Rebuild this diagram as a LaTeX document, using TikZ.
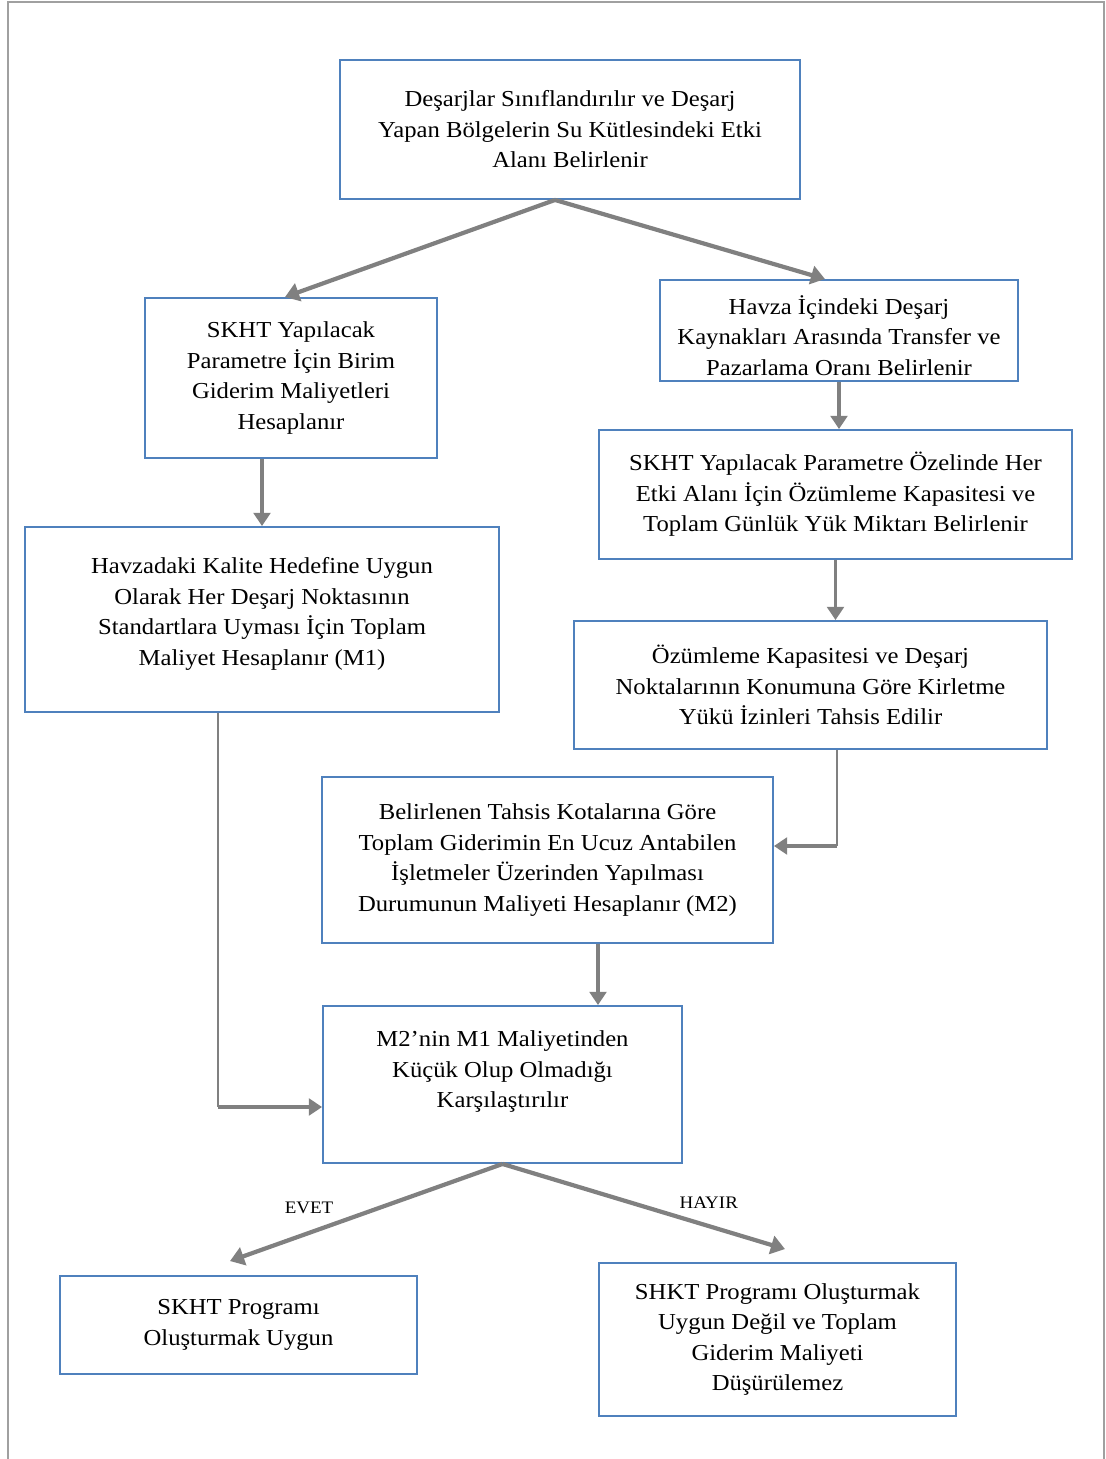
\documentclass[tikz,border=0pt]{standalone}
\usepackage{fontspec}
\setmainfont{Liberation Serif}[FakeStretch=1.08]
\usepackage{tikz}
\usetikzlibrary{arrows.meta, positioning, calc}

\definecolor{boxblue}{RGB}{79,129,189}
\definecolor{arrgray}{RGB}{128,128,128}
\definecolor{framegray}{RGB}{160,160,160}

\begin{document}
\begin{tikzpicture}[
  x=0.02cm, y=-0.02cm,
  box/.style={draw=boxblue, line width=1.1pt, fill=white, align=center, inner sep=0pt, font=\fontsize{13}{17.4}\selectfont},
  arr/.style={-{Triangle[length=7.5pt,width=9.5pt]}, draw=arrgray, fill=arrgray, line width=1.8pt},
  slant/.style={arr, line width=2.4pt, -{Triangle[length=8pt,width=10.5pt]}},
  thinline/.style={draw=arrgray, line width=1pt},
  lbl/.style={inner sep=0pt, font=\fontsize{10}{11}\selectfont}
]
\useasboundingbox (0,0) rectangle (1105,1459);
% Frame
\draw[framegray, line width=1.1pt] (8,1459) -- (8,2) -- (1104,2) -- (1104,1459);

% Top
\node[box, minimum width=9.2cm, minimum height=2.78cm] (A) at (570,129.5) {Deşarjlar Sınıflandırılır ve Deşarj\\Yapan Bölgelerin Su Kütlesindeki Etki\\Alanı Belirlenir};

% Left branch
\node[box, minimum width=5.84cm, minimum height=3.2cm] (B) at (291,378) {SKHT Yapılacak\\Parametre İçin Birim\\Giderim Maliyetleri\\Hesaplanır};
\node[box, minimum width=9.48cm, minimum height=3.7cm] (E) at (262,619.5) {Havzadaki Kalite Hedefine Uygun\\Olarak Her Deşarj Noktasının\\Standartlara Uyması İçin Toplam\\Maliyet Hesaplanır (M1)\\[-8pt]\mbox{}};

% Right branch
\node[box, minimum width=7.16cm, minimum height=2.02cm] (C) at (839,330.5) {\mbox{}\\[-1pt]Havza İçindeki Deşarj\\Kaynakları Arasında Transfer ve\\Pazarlama Oranı Belirlenir};
\node[box, minimum width=9.46cm, minimum height=2.58cm] (D) at (835.5,494.5) {SKHT Yapılacak Parametre Özelinde Her\\Etki Alanı İçin Özümleme Kapasitesi ve\\Toplam Günlük Yük Miktarı Belirlenir};
\node[box, minimum width=9.46cm, minimum height=2.56cm] (F) at (810.5,685) {Özümleme Kapasitesi ve Deşarj\\Noktalarının Konumuna Göre Kirletme\\Yükü İzinleri Tahsis Edilir};
\node[box, minimum width=9.02cm, minimum height=3.32cm] (G) at (547.5,860) {Belirlenen Tahsis Kotalarına Göre\\Toplam Giderimin En Ucuz Antabilen\\İşletmeler Üzerinden Yapılması\\Durumunun Maliyeti Hesaplanır (M2)};

% Comparison
\node[box, minimum width=7.18cm, minimum height=3.14cm] (H) at (502.5,1084.5) {M2’nin M1 Maliyetinden\\Küçük Olup Olmadığı\\Karşılaştırılır\\\mbox{}};

% Results
\node[box, minimum width=7.14cm, minimum height=1.96cm] (I) at (238.5,1325) {SKHT Programı\\Oluşturmak Uygun};
\node[box, minimum width=7.14cm, minimum height=3.06cm] (J) at (777.5,1339.5) {SHKT Programı Oluşturmak\\Uygun Değil ve Toplam\\Giderim Maliyeti\\Düşürülemez};

\draw[slant] ([xshift=-0.3cm]A.south) -- ([xshift=-0.12cm]B.north);
\draw[slant] ([xshift=-0.3cm]A.south) -- ([xshift=-0.28cm]C.north);
\draw[arr] (B.south -| E.north) -- (E.north);
\draw[arr] (C.south) -- (C.south |- D.north);
\draw[arr] (D.south) -- (D.south |- F.north);

% F -> G
\coordinate (fg) at (837,846);
\draw[thinline] (fg |- F.south) -- (fg);
\draw[arr] (fg) -- (fg -| G.east);
\draw[arr] ([xshift=1.01cm]G.south) -- ([xshift=1.01cm]G.south |- H.north);

% E -> H
\coordinate (eh) at (218,1107);
\draw[thinline] (eh |- E.south) -- (eh);
\draw[arr] (eh) -- (eh -| H.west);

\draw[slant] (H.south) -- ([shift={(-8.5,-14)}]I.north) node[lbl, pos=0.71, above=0.35cm] {EVET};
\draw[slant] (H.south) -- ([shift={(7.5,-13)}]J.north) node[lbl, pos=0.73, above=0.3cm] {HAYIR};
\end{tikzpicture}
\end{document}
